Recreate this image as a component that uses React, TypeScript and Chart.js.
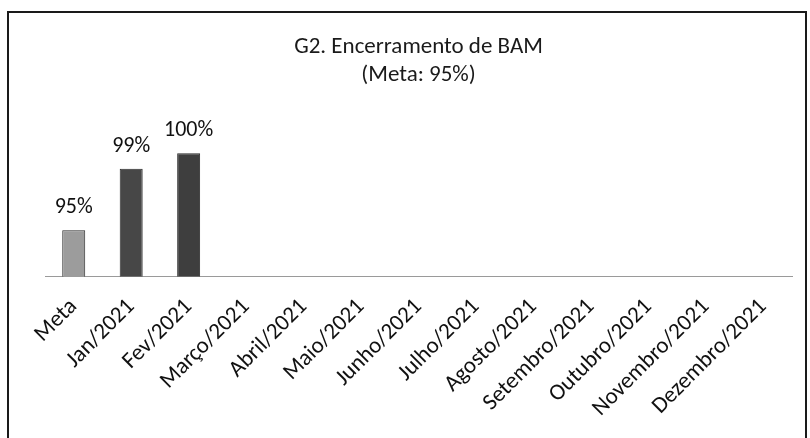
import React, { useEffect, useRef } from "react";
import { Chart, registerables } from "chart.js";

Chart.register(...registerables);

const categories = [
  "Meta",
  "Jan/2021",
  "Fev/2021",
  "Março/2021",
  "Abril/2021",
  "Maio/2021",
  "Junho/2021",
  "Julho/2021",
  "Agosto/2021",
  "Setembro/2021",
  "Outubro/2021",
  "Novembro/2021",
  "Dezembro/2021",
];
const values: (number | null)[] = [95, 99, 100, null, null, null, null, null, null, null, null, null, null];
const barColors = ["#9c9c9c", "#474747", "#3e3e3e", "#404040", "#404040", "#404040", "#404040", "#404040", "#404040", "#404040", "#404040", "#404040", "#404040"];
const titleLines = ["G2. Encerramento de BAM", "(Meta: 95%)"];
const yMin = 92;
const yMax = 102;

const FONT = "Carlito, Lato, 'Open Sans', sans-serif";

const valueLabels = {
  id: "valueLabels",
  afterDatasetsDraw(chart: any) {
    const ctx = chart.ctx;
    const meta = chart.getDatasetMeta(0);
    ctx.save();
    ctx.font = `22px ${FONT}`;
    ctx.fillStyle = "#111";
    ctx.textAlign = "center";
    ctx.textBaseline = "alphabetic";
    meta.data.forEach((bar: any, i: number) => {
      const v = values[i];
      if (v === null || v === undefined) return;
      ctx.fillText(`${v}%`, bar.x, bar.y - 17);
    });
    ctx.restore();
  },
};

export default function App() {
  const ref = useRef<HTMLCanvasElement>(null);
  useEffect(() => {
    if (!ref.current) return;
    const chart = new Chart(ref.current, {
      type: "bar",
      data: {
        labels: categories,
        datasets: [
          {
            data: values,
            backgroundColor: barColors,
            borderColor: "#2a2a2a",
            borderWidth: 1,
            barPercentage: 0.4,
            categoryPercentage: 1,
          },
        ],
      },
      options: {
        animation: false,
        responsive: false,
        maintainAspectRatio: false,
        layout: { padding: { top: 33, left: 45, right: 18, bottom: 0 } },
        plugins: {
          legend: { display: false },
          tooltip: { enabled: false },
          title: {
            display: true,
            text: titleLines,
            color: "#1a1a1a",
            font: { family: FONT, size: 23, weight: "normal", lineHeight: 1.22 },
            padding: { top: 0, bottom: 33.4 },
          },
        },
        scales: {
          x: {
            grid: { display: false },
            border: { display: true, color: "#9a9a9a", width: 1 },
            ticks: {
              color: "#111",
              font: { family: FONT, size: 23 },
              minRotation: 45,
              maxRotation: 45,
              padding: 9,
              autoSkip: false,
            },
            afterFit: (scale: any) => {
              scale.height = 161.5;
              scale.paddingLeft = 0;
              scale.paddingRight = 0;
            },
          },
          y: {
            display: false,
            min: yMin,
            max: yMax,
          },
        },
      },
      plugins: [valueLabels],
    });
    return () => chart.destroy();
  }, []);
  return (
    <div style={{ position: "fixed", left: 0, top: 0, width: 810, height: 438, background: "#fff", overflow: "hidden" }}>
      <div
        style={{
          position: "absolute",
          left: 7,
          top: 11,
          width: 800,
          height: 450,
          border: "2px solid #1a1a1a",
          boxSizing: "border-box",
        }}
      />
      <canvas ref={ref} width={810} height={438} style={{ position: "absolute", left: 0, top: 0 }} />
    </div>
  );
}
